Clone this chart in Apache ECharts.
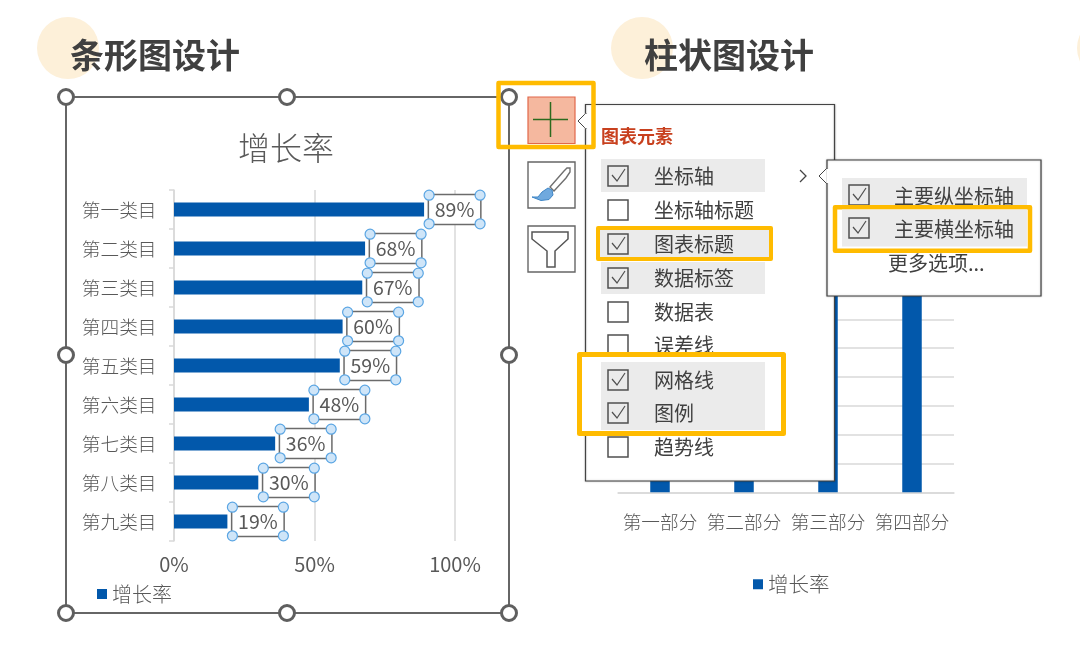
<!DOCTYPE html>
<html><head><meta charset="utf-8">
<style>html,body{margin:0;padding:0;background:#fff}#c{width:1080px;height:647px}</style>
<script src="https://cdn.jsdelivr.net/npm/echarts@6/dist/echarts.min.js"></script>
</head><body><div id="c"></div>
<script>
const headingLeft = '条形图设计';
const headingRight = '柱状图设计';
const chartTitle = '增长率';
const seriesName = '增长率';
const categories = ['第一类目','第二类目','第三类目','第四类目','第五类目','第六类目','第七类目','第八类目','第九类目'];
const growthValues = [89,68,67,60,59,48,36,30,19];
const partCategories = ['第一部分','第二部分','第三部分','第四部分'];
const partValues = [70,75,80,85];
const menuTitle = '图表元素';
const menuItems = ['坐标轴','坐标轴标题','图表标题','数据标签','数据表','误差线','网格线','图例','趋势线'];
const menuChecked = [true,false,true,true,false,false,true,true,false];
const subItems = ['主要纵坐标轴','主要横坐标轴'];
const subMore = '更多选项...';

const FONT = '"Noto Sans CJK SC","Noto Sans",sans-serif';
const BLUE = '#0258AB', GREY = '#595959', LINE = '#D9D9D9', ORANGE = '#FFBB00', ROW = '#EBEBEB';

const g = [];
const rect = (x,y,w,h,style,z,r) => g.push({type:'rect',z,shape:{x,y,width:w,height:h,r:r||0},style});
const txt = (x,y,text,size,fill,z,weight) => g.push({type:'text',z,x,y,style:{text,fill,font:(weight||'normal')+' '+size+'px '+FONT,textVerticalAlign:'middle',textBaseline:'middle'}});
const poly = (points,style,z) => g.push({type:'polyline',z,shape:{points},style:Object.assign({fill:null},style)});
const shape = (points,style,z,smooth) => g.push({type:'polygon',z,shape:{points,smooth:smooth||0},style});
const check = (x,cy,on,z) => {
  rect(x,cy-10,20,20,{fill:on?'rgba(0,0,0,0)':'#fff',stroke:'#505050',lineWidth:1.5},z);
  if(on) poly([[x+4,cy-1],[x+9,cy+5],[x+17,cy-7]],{stroke:'#505050',lineWidth:1.2},z);
};

// backdrop circles and headings
[[68,48],[642,48],[1108,48]].forEach(c=>g.push({type:'circle',z:-1,shape:{cx:c[0],cy:c[1],r:31},style:{fill:'#FDF0D9'}}));
txt(70,55,headingLeft,34,'#404040',5,'bold');
txt(644,55,headingRight,34,'#404040',5,'bold');

// selection frame
rect(66,97,443,516,{fill:'rgba(0,0,0,0)',stroke:'#666',lineWidth:2},4);
[[66,97],[287,97],[509,97],[66,355],[509,355],[66,613],[287,613],[509,613]].forEach(p=>
  g.push({type:'circle',z:4,shape:{cx:p[0],cy:p[1],r:7.5},style:{fill:'#fff',stroke:'#5f5f5f',lineWidth:3}}));

// side buttons
rect(528,97,47,46.5,{fill:'#F5B89F',stroke:'#E2674A',lineWidth:1.2},20);
poly([[533,119.5],[568,119.5]],{stroke:'#2C6A1E',lineWidth:1.5},20);
poly([[550.5,102],[550.5,137]],{stroke:'#2C6A1E',lineWidth:1.5},20);
rect(528,162,47,46,{fill:'#fff',stroke:'#666',lineWidth:1.4},20);
shape([[550,187],[564,171],[567,168],[570,168],[570,172],[566,178],[554,191]],{fill:'#fff',stroke:'#707070',lineWidth:1.4},20);
shape([[548,188],[552,190],[553,195],[549,199.5],[541,200.5],[532,197],[538,197],[542,192]],{fill:'#6FA9DE',stroke:'#3F86C6',lineWidth:1},20);
rect(528,226,47,46,{fill:'#fff',stroke:'#666',lineWidth:1.4},20);
shape([[532,232],[568,232],[568,239],[555,251],[555,267],[547,267],[547,251],[532,239]],{fill:'#fff',stroke:'#555',lineWidth:1.5},20);

// main popup
rect(585.5,104.5,249,376.5,{fill:'#fff',stroke:'#444',lineWidth:1.2,shadowBlur:2,shadowColor:'rgba(0,0,0,0.25)'},20);
shape([[586,113],[578,121],[586,129]],{fill:'#fff',stroke:'#444',lineWidth:1},20);
rect(584.8,113.8,3,14.4,{fill:'#fff'},20);
txt(601,136,menuTitle,18,'#C8401E',21,'bold');
const rowY = [176,210,244,278,312,345,380,413,447];
rect(601,159,164,33,{fill:ROW},21);
rect(601,262,164,32,{fill:ROW},21);
menuItems.forEach((t,i)=>{
  if(i===6||i===7) return;
  check(608,rowY[i],menuChecked[i],22);
  txt(654,rowY[i],t,20,'#404040',22);
});
poly([[800,170],[806,176],[800,182]],{stroke:'#444',lineWidth:1.3},22);

// highlighted row groups
rect(598,228,173,31,{fill:ROW,stroke:ORANGE,lineWidth:4,lineJoin:'round'},23);
check(608,rowY[2],menuChecked[2],24);
txt(654,rowY[2],menuItems[2],20,'#404040',24);
rect(579.5,354.5,204,79,{fill:'#fff',stroke:ORANGE,lineWidth:5,lineJoin:'round'},25);
rect(601,362,164,68,{fill:ROW},26);
[6,7].forEach(i=>{check(608,rowY[i],menuChecked[i],27);txt(654,rowY[i],menuItems[i],20,'#404040',27);});
rect(498.5,83,95,64,{fill:'rgba(0,0,0,0)',stroke:ORANGE,lineWidth:4.5,lineJoin:'round'},28);

// sub menu
rect(827,160,214,136,{fill:'#fff',stroke:'#444',lineWidth:1.2,shadowBlur:2,shadowColor:'rgba(0,0,0,0.25)'},30);
shape([[827,168],[819,176],[827,184]],{fill:'#fff',stroke:'#444',lineWidth:1},30);
rect(826.3,168.8,3,14.4,{fill:'#fff'},30);
rect(842,178,185,32,{fill:ROW},31);
check(849,195,true,32);
txt(894,196,subItems[0],20,'#404040',32);
rect(835,207.2,195,43.5,{fill:'#fff',stroke:ORANGE,lineWidth:4.5,lineJoin:'round'},33);
rect(842,209.5,185,37,{fill:ROW},34);
check(849,228,true,35);
txt(894,229,subItems[1],20,'#404040',35);
txt(888,263,subMore,20,'#404040',35);

const handleSeries = {
  type:'custom', name:'标签控点', xAxisIndex:0, yAxisIndex:0, z:5, silent:true,
  data: growthValues.map((v,i)=>[v,i]),
  encode:{x:0,y:1},
  renderItem(params,api){
    const p = api.coord([api.value(0),api.value(1)]);
    const xs = [p[0]+5,p[0]+56], ys=[p[1]-14.3,p[1]+14.3];
    const kids=[];
    xs.forEach(x=>ys.forEach(y=>kids.push({type:'circle',shape:{cx:x,cy:y,r:5},style:{fill:'#CFE5F8',stroke:'#5AA5E3',lineWidth:1.2}})));
    return {type:'group',children:kids};
  }
};

const option = {
  animation:false,
  backgroundColor:'#fff',
  textStyle:{fontFamily:FONT},
  title:[{text:chartTitle,left:281,top:127,textAlign:'center',textStyle:{fontSize:32,fontWeight:300,color:GREY,fontFamily:FONT}}],
  legend:[
    {data:[seriesName],left:92,top:579,itemWidth:10,itemHeight:10,icon:'rect',textStyle:{fontSize:20,fontWeight:300,color:GREY,fontFamily:FONT}},
    {data:[seriesName],left:748,top:569,itemWidth:10,itemHeight:10,icon:'rect',textStyle:{fontSize:20.5,fontWeight:300,color:GREY,fontFamily:FONT}}
  ],
  grid:[
    {left:174,top:190,width:281,height:351,containLabel:false},
    {left:618,top:204,width:336,height:288.3,containLabel:false}
  ],
  xAxis:[
    {type:'value',gridIndex:0,min:0,max:100,interval:50,axisLine:{show:false},axisTick:{show:false},
     axisLabel:{formatter:'{value}%',fontSize:20,color:GREY,margin:13,fontFamily:FONT},
     splitLine:{lineStyle:{color:LINE,width:1.5}}},
    {type:'category',gridIndex:1,data:partCategories,axisLine:{lineStyle:{color:LINE,width:1.5}},axisTick:{show:false},
     axisLabel:{fontSize:18.7,fontWeight:300,color:GREY,margin:20,fontFamily:FONT,interval:0}}
  ],
  yAxis:[
    {type:'category',gridIndex:0,inverse:true,data:categories,
     axisLine:{lineStyle:{color:LINE,width:1.5}},axisTick:{show:true,length:5,lineStyle:{color:LINE,width:1.5}},
     axisLabel:{fontSize:18.7,fontWeight:300,color:GREY,margin:17.5,fontFamily:FONT,interval:0}},
    {type:'value',gridIndex:1,min:0,max:100,interval:10,axisLine:{show:false},axisTick:{show:false},axisLabel:{show:false},
     splitLine:{lineStyle:{color:LINE,width:1.5}}}
  ],
  series:[
    {type:'bar',name:seriesName,xAxisIndex:0,yAxisIndex:0,data:growthValues,barWidth:14,itemStyle:{color:BLUE},
     z:3,
     label:{show:true,position:'right',distance:5,formatter:p=>'{b|'+p.value+'%}',
       rich:{b:{width:51,height:28.6,lineHeight:29,align:'center',fontSize:19.5,color:GREY,fontFamily:FONT,
                backgroundColor:'#fff',borderColor:'#6b6b6b',borderWidth:1.5}}}},
    handleSeries,
    {type:'bar',name:seriesName,xAxisIndex:1,yAxisIndex:1,data:partValues,barWidth:19.5,itemStyle:{color:BLUE}}
  ],
  graphic:{elements:g}
};
const chart = echarts.init(document.getElementById('c'),null,{renderer:'canvas'});
chart.setOption(option);
</script></body></html>
